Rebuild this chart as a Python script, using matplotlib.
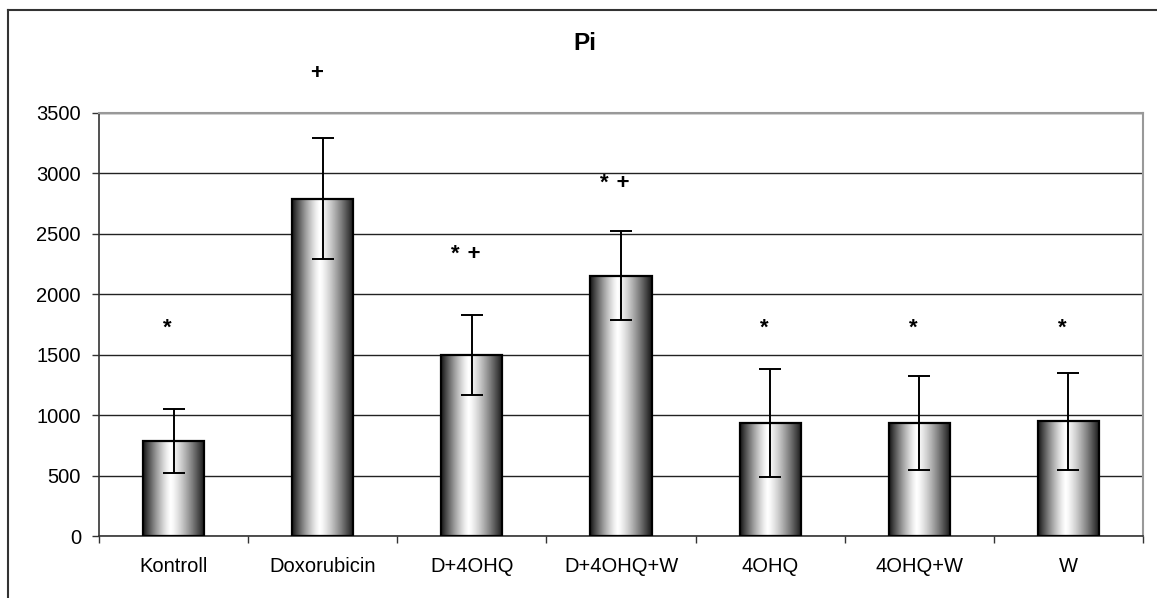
import matplotlib
matplotlib.use("Agg")
import matplotlib.pyplot as plt
import numpy as np
from matplotlib.lines import Line2D

categories = ["Kontroll", "Doxorubicin", "D+4OHQ", "D+4OHQ+W", "4OHQ", "4OHQ+W", "W"]
means = [785, 2790, 1495, 2155, 935, 935, 950]
errors = [262, 500, 330, 370, 443, 393, 402]
marks = ["*", "+", "* +", "* +", "*", "*", "*"]
mark_heights = [1720, 3830, 2330, 2920, 1720, 1720, 1720]
yticks = [0, 500, 1000, 1500, 2000, 2500, 3000, 3500]
title = "Pi"

plt.rcParams['font.family'] = ['Liberation Sans', 'DejaVu Sans']

fig = plt.figure(figsize=(11.57, 5.98), dpi=100)
ax = fig.add_axes([99/1157, 1-536/598, (1143-99)/1157, (536-113)/598])

x = np.arange(len(categories))
width = 0.41

# gradient profile (dark edges, white center)
t = np.linspace(0, 1, 256)
d = np.where(t < 0.45, (0.45 - t) / 0.45, (t - 0.45) / 0.55)
bright = 1 - 0.92 * d ** 1.3
grad = np.tile(bright, (2, 1))

for xi, m in zip(x, means):
    ax.imshow(grad, cmap='gray', vmin=0, vmax=1, aspect='auto',
              extent=(xi - width/2, xi + width/2, 0, m), zorder=2,
              interpolation='bilinear')
ax.bar(x, means, width=width, fill=False, edgecolor='black', linewidth=1.6, zorder=3)
ax.errorbar(x, means, yerr=errors, fmt='none', ecolor='black', elinewidth=1.4,
            capsize=8, capthick=1.4, zorder=4)

for xi, mk, h in zip(x, marks, mark_heights):
    ax.text(xi - 0.04, h, mk.replace(" ", " \u200a"), ha='center', va='center',
            fontsize=16, fontweight='bold', zorder=5)

ax.set_xlim(-0.5, len(categories) - 0.5)
ax.set_ylim(0, 3500)
ax.set_yticks(yticks)
ax.set_yticklabels([str(v) for v in yticks], fontsize=14.5)
ax.yaxis.grid(True, color='#222222', linewidth=1.0)
ax.set_axisbelow(True)

ax.set_xticks(x)
ax.set_xticklabels(categories, fontsize=14.5)
ax.set_xticks(np.arange(len(categories) + 1) - 0.5, minor=True)
ax.tick_params(axis='x', which='major', length=0, pad=15)
ax.tick_params(axis='x', which='minor', length=5, width=1, color='#333333')
ax.tick_params(axis='y', length=5, width=1, pad=8, color='#333333')

for s in ['left', 'bottom']:
    ax.spines[s].set_color('#333333')
    ax.spines[s].set_linewidth(1.2)
for s in ['top', 'right']:
    ax.spines[s].set_color('#999999')
    ax.spines[s].set_linewidth(1.5)

fig.text(585/1157, 1 - 43/598, title, ha='center', va='center', fontsize=17.5, fontweight='bold')

# outer chart border (top and left visible)
fig.add_artist(Line2D([8/1157, 8/1157], [0, 1 - 10/598], transform=fig.transFigure, color='#333333', lw=1.5))
fig.add_artist(Line2D([8/1157, 1], [1 - 10/598, 1 - 10/598], transform=fig.transFigure, color='#333333', lw=1.5))

fig.savefig("out.png", dpi=100)
